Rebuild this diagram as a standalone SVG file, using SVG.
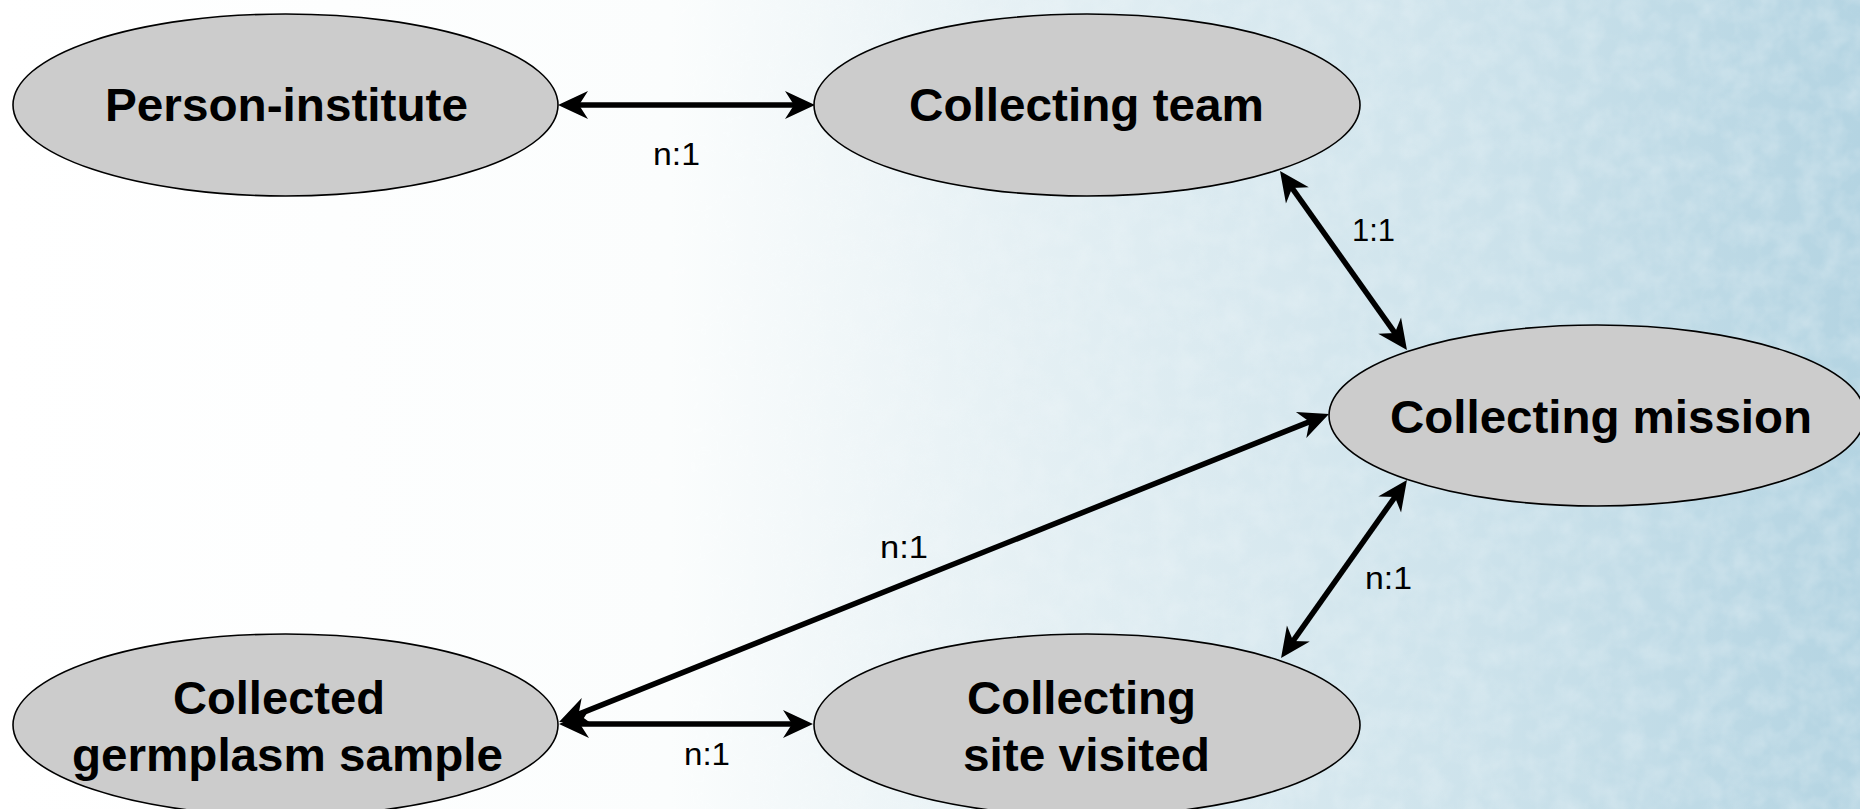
<svg xmlns="http://www.w3.org/2000/svg" width="1860" height="809" viewBox="0 0 1860 809">
  <defs>
    <linearGradient id="bg" x1="0" y1="0" x2="1860" y2="0" gradientUnits="userSpaceOnUse">
      <stop offset="0" stop-color="#ffffff"/>
      <stop offset="0.36" stop-color="#fbfdfd"/>
      <stop offset="0.55" stop-color="#e5f0f4"/>
      <stop offset="0.8" stop-color="#cce2eb"/>
      <stop offset="1" stop-color="#b4d4e2"/>
    </linearGradient>
    <linearGradient id="fadeG" x1="0" y1="0" x2="1860" y2="0" gradientUnits="userSpaceOnUse">
      <stop offset="0.32" stop-color="#000"/>
      <stop offset="0.6" stop-color="#999"/>
      <stop offset="1" stop-color="#fff"/>
    </linearGradient>
    <mask id="fade">
      <rect x="0" y="0" width="1860" height="809" fill="url(#fadeG)"/>
    </mask>
    <filter id="noise" x="0" y="0" width="100%" height="100%">
      <feTurbulence type="fractalNoise" baseFrequency="0.045" numOctaves="3" seed="7" result="t"/>
      <feColorMatrix in="t" type="matrix" values="0 0 0 0 1  0 0 0 0 1  0 0 0 0 1  0 0 0 -1.4 0.95"/>
    </filter>
    <marker id="arr" viewBox="-12 -15 34 30" refX="0" refY="0" markerWidth="34" markerHeight="30" markerUnits="userSpaceOnUse" orient="auto-start-reverse">
      <path d="M20,0 L-10,-14 L-1,0 L-10,14 Z" fill="#000"/>
    </marker>
  </defs>
  <style>
    .node ellipse { fill: #cccccc; stroke: #000; stroke-width: 1.6; }
    .node text { font-family: "Liberation Sans", Arial, sans-serif; font-weight: bold; font-size: 46px; fill: #000; }
    .conn line { stroke: #000; stroke-width: 5.5; marker-start: url(#arr); marker-end: url(#arr); }
    .lbl { font-family: "Liberation Sans", Arial, sans-serif; font-size: 31px; fill: #000; }
  </style>
  <rect x="0" y="0" width="1860" height="809" fill="url(#bg)"/>
  <rect x="0" y="0" width="1860" height="809" filter="url(#noise)" mask="url(#fade)" opacity="0.3"/>

  <g id="connectors" class="conn">
    <line x1="578" y1="105" x2="795" y2="105"/>
    <line x1="1291.6" y1="187.3" x2="1395.4" y2="333.7"/>
    <line x1="577.6" y1="714.6" x2="1310.4" y2="421.4"/>
    <line x1="1292.6" y1="641.7" x2="1395.4" y2="496.3"/>
    <line x1="579" y1="724" x2="793" y2="724"/>
    <text class="lbl" x="653" y="165" textLength="47" lengthAdjust="spacingAndGlyphs">n:1</text>
    <text class="lbl" x="1352" y="241" textLength="43" lengthAdjust="spacingAndGlyphs">1:1</text>
    <text class="lbl" x="880" y="558" textLength="48" lengthAdjust="spacingAndGlyphs">n:1</text>
    <text class="lbl" x="1365" y="589" textLength="47" lengthAdjust="spacingAndGlyphs">n:1</text>
    <text class="lbl" x="684" y="765" textLength="46" lengthAdjust="spacingAndGlyphs">n:1</text>
  </g>

  <g id="person-institute" class="node">
    <ellipse cx="285.5" cy="105" rx="272.5" ry="91"/>
    <text x="105" y="121" textLength="363" lengthAdjust="spacingAndGlyphs">Person-institute</text>
  </g>
  <g id="collecting-team" class="node">
    <ellipse cx="1087" cy="105" rx="273" ry="91"/>
    <text x="909" y="121" textLength="355" lengthAdjust="spacingAndGlyphs">Collecting team</text>
  </g>
  <g id="collecting-mission" class="node">
    <ellipse cx="1597" cy="415.5" rx="268" ry="90.5"/>
    <text x="1390" y="433" textLength="422" lengthAdjust="spacingAndGlyphs">Collecting mission</text>
  </g>
  <g id="collected-germplasm-sample" class="node">
    <ellipse cx="285.5" cy="725" rx="272.5" ry="91"/>
    <text x="173" y="714" textLength="212" lengthAdjust="spacingAndGlyphs">Collected</text>
    <text x="72" y="771" textLength="431" lengthAdjust="spacingAndGlyphs">germplasm sample</text>
  </g>
  <g id="collecting-site-visited" class="node">
    <ellipse cx="1087" cy="725" rx="273" ry="91"/>
    <text x="967" y="714" textLength="229" lengthAdjust="spacingAndGlyphs">Collecting</text>
    <text x="963" y="771" textLength="247" lengthAdjust="spacingAndGlyphs">site visited</text>
  </g>
</svg>
